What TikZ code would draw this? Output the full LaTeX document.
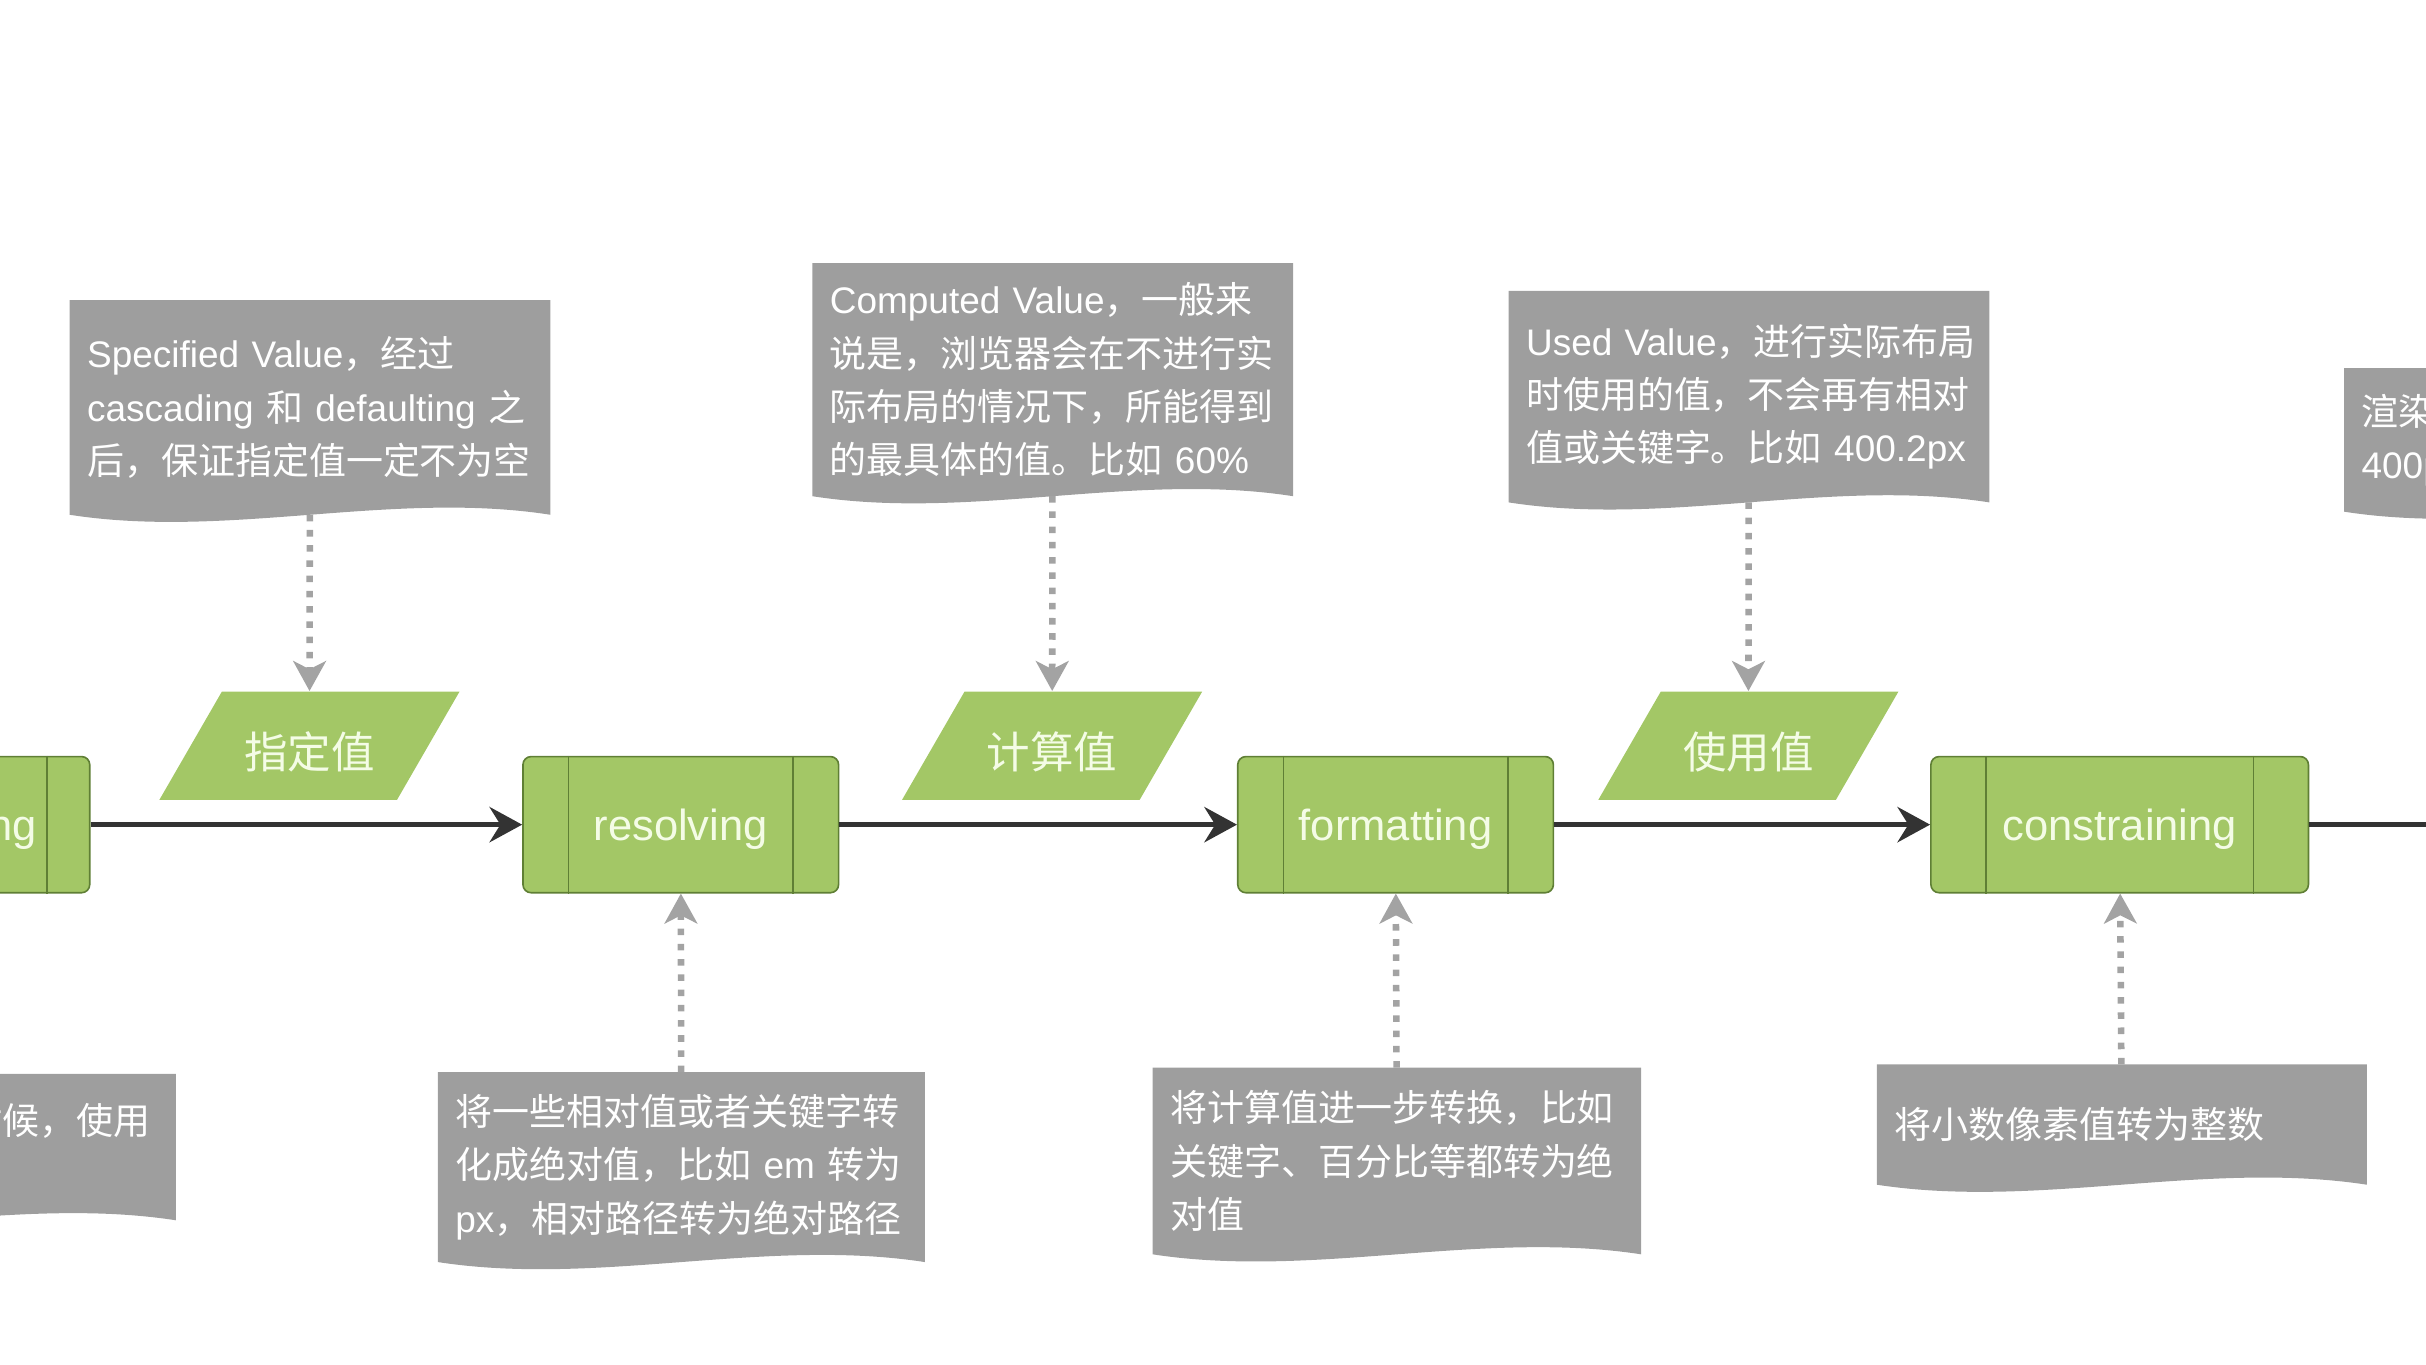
\documentclass[tikz,border=0pt]{standalone}
\usepackage{fontspec}
\setmainfont{Liberation Sans}
\newfontfamily\cjkfont{Noto Sans CJK SC}
\usetikzlibrary{arrows.meta,shapes.geometric,backgrounds,calc}

% Han characters and full-width punctuation are set in the CJK face
\XeTeXinterchartokenstate=1
\chardef\cjkclass=7
\newcount\cjkcnt
\newcommand\cjkrange[2]{\cjkcnt=#1\relax
  \loop\XeTeXcharclass\cjkcnt=\cjkclass\relax
    \ifnum\cjkcnt<#2\relax\advance\cjkcnt by 1\relax\repeat}
\cjkrange{"3000}{"303F}
\cjkrange{"4E00}{"9FFF}
\cjkrange{"FF00}{"FFEF}
\XeTeXinterchartoks 0 \cjkclass = {\cjkfont}
\XeTeXinterchartoks 4095 \cjkclass = {\cjkfont}
\XeTeXinterchartoks \cjkclass 0 = {\rmfamily}
\XeTeXinterchartoks 4095 0 = {\rmfamily}

\definecolor{procgreen}{HTML}{A3C766}
\definecolor{procline}{HTML}{5F7F35}
\definecolor{labelgreen}{HTML}{F4FCE6}
\definecolor{notegray}{HTML}{9E9E9E}
\definecolor{flowgray}{HTML}{333333}
\definecolor{depgray}{HTML}{A3A3A3}

\begin{document}
\begin{tikzpicture}[x=0.2mm,y=-0.2mm, every node/.style={inner sep=0pt},
  proc/.style={draw=procline,fill=procgreen,line width=0.6pt,rounded corners=3pt,minimum height=17.6mm,text height=5.3mm,text depth=1.2mm,text=labelgreen,font=\fontsize{16}{19}\selectfont},
  data/.style={trapezium,trapezium left angle=60,trapezium right angle=120,trapezium stretches body,fill=procgreen,minimum width=38.8mm,text height=6mm,text depth=0.12mm,inner ysep=3.94mm,text=labelgreen,font=\fontsize{16}{19}\selectfont},
  note/.style={anchor=north west,inner xsep=2.2mm,align=left,text=white,font=\fontsize{13.6}{19.6}\selectfont},
  flow/.style={draw=flowgray,line width=1.7pt,-{Stealth[length=12pt,width=13pt,inset=4pt]}},
  dep/.style={draw=depgray,line width=2.4pt,dash pattern=on 2.4pt off 3.2pt,-{Stealth[length=11pt,width=12pt,inset=3pt]}}]
\useasboundingbox (0,0) rectangle (1568,882);

% steps
\node[proc,minimum width=38mm] (dflt) at (-37,533) {defaulting};
\node[proc,minimum width=40.8mm] (res) at (440,533) {resolving};
\node[proc,minimum width=40.8mm] (fmt) at (902,533) {formatting};
\node[proc,minimum width=48.8mm] (con) at (1370,533) {constraining};
\coordinate (out) at (1700,533);
\foreach \nm/\band in {dflt/5.6mm,res/6mm,fmt/6mm,con/7.2mm}
  \draw[procline,line width=0.6pt] ([xshift=\band]\nm.north west) -- ([xshift=\band]\nm.south west)
    ([xshift=-\band]\nm.north east) -- ([xshift=-\band]\nm.south east);

% values
\node[data] (spec) at (200,482) {指定值};
\node[data] (comp) at (680,482) {计算值};
\node[data] (used) at (1130,482) {使用值};

% notes
\node[note,text width=57.6mm,minimum height=27.6mm] (specnote) at (45,194) {Specified~Value，经过\\cascading~和~defaulting~之\\后，保证指定值一定不为空};
\node[note,text width=57.6mm,minimum height=30mm] (compnote) at (525,170) {Computed~Value，一般来\\说是，浏览器会在不进行实\\际布局的情况下，所能得到\\的最具体的值。比如~60\%};
\node[note,text width=57.6mm,minimum height=27.2mm] (usednote) at (975,188) {Used~Value，进行实际布局\\时使用的值，不会再有相对\\值或关键字。比如~400.2px};
\node[note,text width=57.6mm,minimum height=18.4mm] (actnote) at (1515,238) {渲染时实际使用的值，比如\\400px};
\node[note,text width=58.4mm,minimum height=18.8mm] (dfltnote) at (-201,694) {当没有指定值的时候，使用\\默认值};
\node[note,text width=58.4mm,minimum height=24.4mm] (resnote) at (283,693) {将一些相对值或者关键字转\\化成绝对值，比如~em~转为\\px，相对路径转为绝对路径};
\node[note,text width=58.6mm,minimum height=24mm] (fmtnote) at (745,690) {将计算值进一步转换，比如\\关键字、百分比等都转为绝\\对值};
\node[note,text width=58.8mm,minimum height=15.4mm] (connote) at (1213,688) {将小数像素值转为整数};

\begin{scope}[on background layer]
\foreach \n in {specnote,compnote,usednote,actnote,dfltnote,resnote,fmtnote,connote}
  \fill[notegray] (\n.north west) -- (\n.north east) -- (\n.south east)
    .. controls ($(\n.south east)!0.33!(\n.south west)+(0,-16)$) and ($(\n.south east)!0.67!(\n.south west)+(0,16)$) .. (\n.south west) -- cycle;
\end{scope}

% flow
\draw[flow] (dflt) -- (res);
\draw[flow] (res) -- (fmt);
\draw[flow] (fmt) -- (con);
\draw[flow] (con) -- (out);

% notes to values and steps
\draw[dep] (specnote) -- (spec);
\draw[dep] (compnote) -- (comp);
\draw[dep] (usednote) -- (used);
\draw[dep] (resnote) -- (res);
\draw[dep] (fmtnote) -- (fmt);
\draw[dep] (connote) -- (con);
\end{tikzpicture}
\end{document}
